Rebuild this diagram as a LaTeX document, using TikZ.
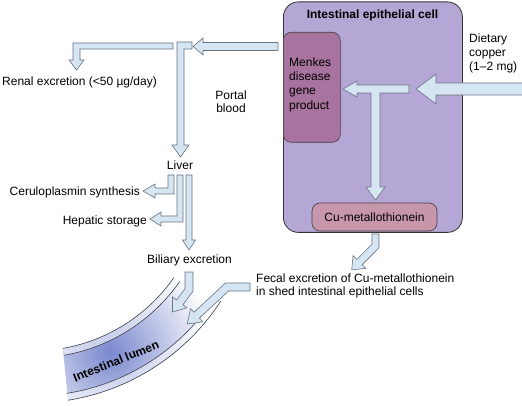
\documentclass[tikz,border=0pt]{standalone}
\usepackage{fontspec}
\setmainfont{Liberation Sans}
\definecolor{cellfill}{HTML}{B4A6D5}
\definecolor{menkesfill}{HTML}{A8739F}
\definecolor{cufill}{HTML}{C896AB}
\definecolor{arrowfill}{HTML}{D5E5F2}
\definecolor{arrowline}{HTML}{6B7382}
\definecolor{lumenblue}{HTML}{7A88CE}
\definecolor{wallline}{HTML}{3C4050}
\begin{document}
\begin{tikzpicture}[x=1pt,y=-1pt,
  txt/.style={font=\fontsize{12}{14}\selectfont, inner sep=0pt, text=black},
  txtb/.style={font=\fontsize{12}{14}\selectfont\bfseries, inner sep=0pt, text=black},
  blockarrow/.style={fill=arrowfill, draw=arrowline, line width=0.6pt, line join=miter},
  wall/.style={draw=wallline, line width=0.6pt}]

\fill[white] (0,0) rectangle (522,406);
\path[use as bounding box] (0,0) rectangle (522,406);

% ---------- intestinal lumen ----------
\begin{scope}
  \clip plot[domain=80:35,samples=40] ({33+172*cos(\x)},{179+172*sin(\x)})
     -- plot[domain=33:81,samples=40] ({33+224*cos(\x)},{179+224*sin(\x)}) -- cycle;
  \shade[inner color=lumenblue, outer color=white] (110,352) circle[radius=105pt];
  \fill[white, opacity=0.55] plot[domain=80:35,samples=40] ({33+172*cos(\x)},{179+172*sin(\x)})
     -- plot[domain=35:80,samples=40] ({33+179*cos(\x)},{179+179*sin(\x)}) -- cycle;
  \fill[white, opacity=0.55] plot[domain=81:33,samples=40] ({33+217*cos(\x)},{179+217*sin(\x)})
     -- plot[domain=33:81,samples=40] ({33+224*cos(\x)},{179+224*sin(\x)}) -- cycle;
\end{scope}
\draw[wall] plot[domain=80:35,samples=40] ({33+172*cos(\x)},{179+172*sin(\x)});
\draw[wall] plot[domain=80:35,samples=40] ({33+179*cos(\x)},{179+179*sin(\x)});
\draw[wall] plot[domain=81:33,samples=40] ({33+217*cos(\x)},{179+217*sin(\x)});
\draw[wall] plot[domain=81:33,samples=40] ({33+224*cos(\x)},{179+224*sin(\x)});
\node[txtb, rotate=22] (lumen) at (116,361) {Intestinal lumen};

% ---------- intestinal epithelial cell ----------
\node[draw=black!80, line width=0.8pt, fill=cellfill, rounded corners=15pt,
      minimum width=179pt, minimum height=230.5pt, anchor=north west, inner sep=0pt] (cell) at (283,1.5) {};
\node[txtb] (title) at (372.5,15) {Intestinal epithelial cell};
\node[draw=black!75, line width=0.6pt, fill=menkesfill, rounded corners=8pt,
      minimum width=57pt, minimum height=110pt, anchor=north west, inner sep=0pt] (menkesbox) at (283,32) {};
\node[txt, anchor=west, align=left, font=\fontsize{12}{14.3}\selectfont] (menkes) at (289,84.5) {Menkes\\disease\\gene\\product};
\node[draw=black!75, line width=0.6pt, fill=cufill, rounded corners=8pt,
      minimum width=125pt, minimum height=28pt, inner sep=0pt] (cubox) at (374.5,217) {};
\node[txt] (cu) at (374.5,217) {Cu-metallothionein};

% ---------- labels ----------
\node[txt, anchor=west, align=left] (dietary) at (469,53) {Dietary\\copper\\(1–2 mg)};
\node[txt, anchor=west] (renal) at (2,82) {Renal excretion (<50 µg/day)};
\node[txt, align=center, font=\fontsize{12}{13}\selectfont] (portal) at (231,101.5) {Portal\\blood};
\node[txt] (liver) at (180,165) {Liver};
\node[txt, anchor=east] (cerulo) at (140,192) {Ceruloplasmin synthesis};
\node[txt, anchor=east] (hepatic) at (147,221) {Hepatic storage};
\node[txt] (biliary) at (189.5,260) {Biliary excretion};
\node[txt, anchor=west, align=left, font=\fontsize{12}{13}\selectfont] (fecal) at (256,285.5)
  {Fecal excretion of Cu-metallothionein\\in shed intestinal epithelial cells};

% ---------- block arrows ----------
% dietary copper into cell
\draw[blockarrow] (524,83) -- (436,83) -- (436,74) -- (416,89) -- (436,104) -- (436,95) -- (524,95) -- cycle;
% T inside cell
\draw[blockarrow] (409,85) -- (357,85) -- (357,81) -- (343,89) -- (357,97) -- (357,93) -- (371,93)
  -- (371,187) -- (366,187) -- (375.5,200) -- (385,187) -- (380,187) -- (380,93) -- (409,93) -- cycle;
% cell to portal blood
\draw[blockarrow] (278,42.5) -- (203,42.5) -- (203,38) -- (193,46.5) -- (203,55) -- (203,50.5) -- (278,50.5) -- cycle;
% portal blood down to liver
\draw[blockarrow] (177,42) -- (192,42) -- (192,49) -- (184,49) -- (184,145) -- (189,145) -- (180.5,157)
  -- (172,145) -- (177,145) -- cycle;
% renal
\draw[blockarrow] (173,43) -- (73,43) -- (73,60) -- (69,60) -- (76.5,70) -- (84,60) -- (80,60) -- (80,49) -- (173,49) -- cycle;
% liver: ceruloplasmin
\draw[blockarrow] (168,175) -- (174,175) -- (174,194) -- (155,194) -- (155,198) -- (143,191) -- (155,184)
  -- (155,188) -- (168,188) -- cycle;
% liver: hepatic storage
\draw[blockarrow] (177,175) -- (183,175) -- (183,222) -- (161,222) -- (161,226) -- (150,219) -- (161,212)
  -- (161,216) -- (177,216) -- cycle;
% liver: biliary
\draw[blockarrow] (186,175) -- (192,175) -- (192,240) -- (195.5,240) -- (189,250) -- (182.5,240) -- (186,240) -- cycle;
% biliary into lumen
\draw[blockarrow] (185,272) -- (185,288.7) -- (176.5,300) -- (172.5,297) -- (172.5,312) -- (186.9,307.8)
  -- (182.9,304.8) -- (193,291.3) -- (193,272) -- cycle;
% fecal into lumen
\draw[blockarrow] (250,283) -- (225.4,283) -- (194,312.3) -- (190.6,308.6) -- (187.2,324.1) -- (202.8,321.8)
  -- (199.4,318.1) -- (228.6,291) -- (250,291) -- cycle;
% Cu-metallothionein out of cell
\draw[blockarrow] (372,234) -- (372,244.2) -- (356.9,259.4) -- (353.1,255.6) -- (351.7,269.8) -- (365.9,268.4)
  -- (362.2,264.7) -- (379,247.8) -- (379,234) -- cycle;
\end{tikzpicture}
\end{document}
